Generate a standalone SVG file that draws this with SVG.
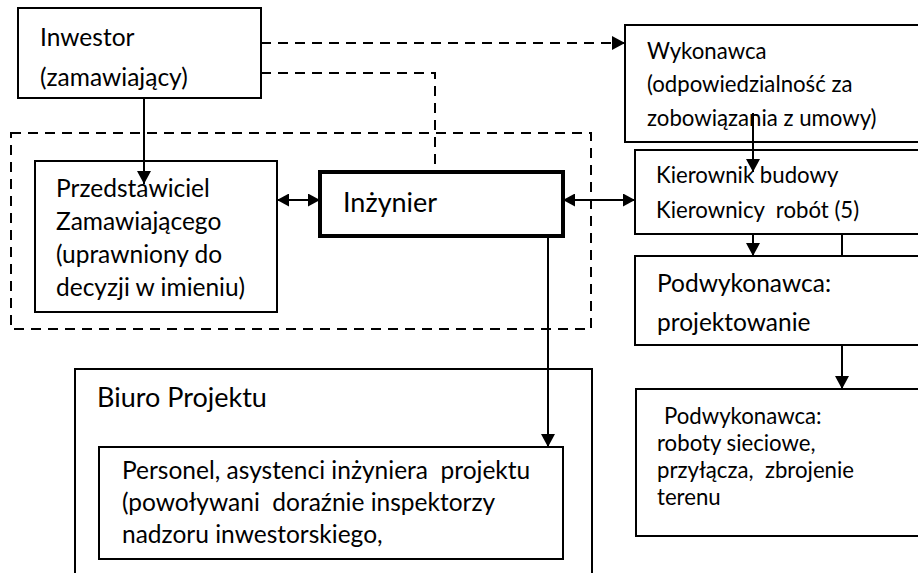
<svg xmlns="http://www.w3.org/2000/svg" width="918" height="573" viewBox="0 0 918 573">
<style>
  .box { fill: #ffffff; stroke: #000000; stroke-width: 2; }
  .thick { fill: #ffffff; stroke: #000000; stroke-width: 4; }
  .dash { fill: none; stroke: #000000; stroke-width: 2; stroke-dasharray: 10 7; }
  .line { fill: none; stroke: #000000; stroke-width: 2; }
  text { font-family: Lato, "Noto Sans", "Liberation Sans", sans-serif; fill: #000000; white-space: pre; }
  .t24 { font-size: 24.5px; }
  .t22 { font-size: 22.2px; }
  .t27 { font-size: 27px; }
</style>
<defs>
  <marker id="arrow" viewBox="0 0 13 14" refX="13" refY="7" markerWidth="13" markerHeight="14" markerUnits="userSpaceOnUse" orient="auto-start-reverse">
    <path d="M0,0 L13,7 L0,14 z" fill="#000000"/>
  </marker>
  <marker id="arrowS" viewBox="0 0 12 13" refX="12" refY="6.5" markerWidth="12" markerHeight="13" markerUnits="userSpaceOnUse" orient="auto-start-reverse">
    <path d="M0,0 L12,6.5 L0,13 z" fill="#000000"/>
  </marker>
</defs>

<g id="grupa-zamawiajacego">
  <rect class="dash" x="11" y="133" width="580" height="196"/>
</g>

<g id="inwestor">
  <rect class="box" x="18" y="8" width="243" height="90"/>
  <text class="t24" x="40" y="46">Inwestor</text>
  <text class="t24" x="40" y="86">(zamawiający)</text>
</g>

<g id="przedstawiciel">
  <rect class="box" x="35" y="161" width="242" height="151"/>
  <text class="t24" x="56" y="197">Przedstawiciel</text>
  <text class="t24" x="56" y="230">Zamawiającego</text>
  <text class="t24" x="56" y="263">(uprawniony do</text>
  <text class="t24" x="56" y="296">decyzji w imieniu)</text>
</g>

<g id="inzynier">
  <rect class="thick" x="320" y="172" width="243" height="64"/>
  <text class="t27" x="343" y="212">Inżynier</text>
</g>

<g id="wykonawca">
  <rect class="box" x="625" y="25" width="310" height="117"/>
  <text class="t22" x="647" y="59">Wykonawca</text>
  <text class="t22" x="647" y="92">(odpowiedzialność za</text>
  <text class="t22" x="647" y="126">zobowiązania z umowy)</text>
</g>

<g id="kierownik">
  <rect class="box" x="635" y="150" width="300" height="84"/>
  <text class="t22" x="656" y="183">Kierownik budowy</text>
  <text class="t22" x="656" y="218">Kierownicy  robót (5)</text>
</g>

<g id="podwykonawca-projektowanie">
  <rect class="box" x="635" y="256" width="300" height="89"/>
  <text class="t24" x="657" y="292">Podwykonawca:</text>
  <text class="t24" x="657" y="331">projektowanie</text>
</g>

<g id="podwykonawca-roboty">
  <rect class="box" x="636" y="389" width="300" height="147"/>
  <text class="t22" x="664" y="424">Podwykonawca:</text>
  <text class="t22" x="657" y="451">roboty sieciowe,</text>
  <text class="t22" x="657" y="478">przyłącza,  zbrojenie</text>
  <text class="t22" x="657" y="505">terenu</text>
</g>

<g id="biuro-projektu">
  <rect class="box" x="75" y="369" width="517" height="240"/>
  <text class="t27" x="97" y="407">Biuro Projektu</text>
</g>

<g id="personel">
  <rect class="box" x="99" y="447" width="464" height="112"/>
  <text class="t24" x="122" y="479">Personel, asystenci inżyniera  projektu</text>
  <text class="t24" x="122" y="511">(powoływani  doraźnie inspektorzy</text>
  <text class="t24" x="122" y="543">nadzoru inwestorskiego,</text>
</g>

<g id="connectors">
  <line class="line" x1="144" y1="98" x2="144" y2="184" marker-end="url(#arrow)"/>
  <line class="dash" x1="261" y1="43" x2="625" y2="43" marker-end="url(#arrow)"/>
  <polyline class="dash" points="261,73 435,73 435,172"/>
  <line class="line" x1="277" y1="200" x2="320" y2="200" marker-start="url(#arrowS)" marker-end="url(#arrowS)"/>
  <line class="line" x1="563" y1="200" x2="635" y2="200" marker-start="url(#arrowS)" marker-end="url(#arrowS)"/>
  <line class="line" x1="753" y1="113" x2="753" y2="172" marker-end="url(#arrow)"/>
  <line class="line" x1="753" y1="234" x2="753" y2="256" marker-end="url(#arrow)"/>
  <line class="line" x1="842" y1="234" x2="842" y2="256"/>
  <line class="line" x1="842" y1="345" x2="842" y2="389" marker-end="url(#arrow)"/>
  <line class="line" x1="548" y1="236" x2="548" y2="447" marker-end="url(#arrow)"/>
</g>
</svg>
